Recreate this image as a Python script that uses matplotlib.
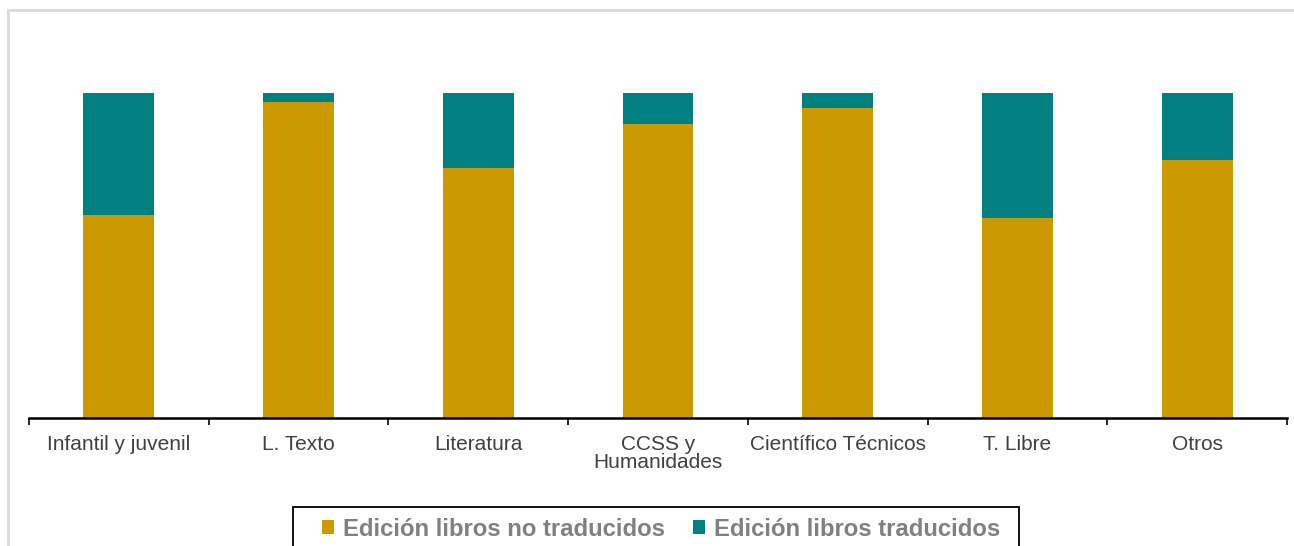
import matplotlib
matplotlib.use("Agg")
import matplotlib.pyplot as plt
from matplotlib.patches import Rectangle

plt.rcParams['font.family'] = ['Liberation Sans', 'DejaVu Sans']

categorias = ["Infantil y juvenil", "L. Texto", "Literatura", "CCSS y\nHumanidades",
              "Científico Técnicos", "T. Libre", "Otros"]
no_traducidos = [62.5, 97.3, 76.8, 90.5, 95.3, 61.4, 79.4]
traducidos = [100 - v for v in no_traducidos]

oro = "#CC9900"
verde = "#008080"

W, H = 1294, 546
fig = plt.figure(figsize=(W / 100, H / 100), dpi=100)
ax = fig.add_axes([29/W, 1 - 418/H, (1287 - 29)/W, (418 - 93)/H])

x = range(len(categorias))
b1 = ax.bar(x, no_traducidos, width=0.395, color=oro, label="Edición libros no traducidos")
b2 = ax.bar(x, traducidos, width=0.395, bottom=no_traducidos, color=verde,
            label="Edición libros traducidos")

ax.set_xlim(-0.5, len(categorias) - 0.5)
ax.set_ylim(0, 100)
ax.set_yticks([])
for s in ["top", "right", "left"]:
    ax.spines[s].set_visible(False)
ax.spines["bottom"].set_linewidth(1.8)

# ticks between categories
ax.set_xticks([i - 0.5 for i in range(len(categorias) + 1)], minor=False)
ax.set_xticklabels([])
ax.tick_params(axis="x", length=5, width=1.2, direction="out")
ax.set_xticks(list(x), minor=True)
ax.set_xticklabels(categorias, minor=True, fontsize=15, color="#404040", linespacing=0.95)
ax.tick_params(axis="x", which="minor", length=0, pad=12)

# outer light border (cropped at right and bottom)
fig.patches.append(Rectangle((8/W, -0.1), 1.2, (1 - 10/H) + 0.1,
                             transform=fig.transFigure, fill=False,
                             edgecolor="#d9d9d9", linewidth=2, clip_on=False))

# legend box (cropped at bottom)
fig.patches.append(Rectangle((293/W, -0.1), (1019 - 293)/W, (1 - 507/H) + 0.1,
                             transform=fig.transFigure, fill=False,
                             edgecolor="black", linewidth=1.3, clip_on=False))

fig.legend(handles=[b1, b2], loc="center", ncol=2,
           bbox_to_anchor=(661/W, 1 - 529/H), borderaxespad=0, frameon=False,
           prop={"size": 17.2, "weight": "bold"}, handlelength=0.5, handleheight=0.5,
           handletextpad=0.4, columnspacing=1.15, borderpad=0, labelcolor="#808080")

fig.savefig("out.png", dpi=100)
